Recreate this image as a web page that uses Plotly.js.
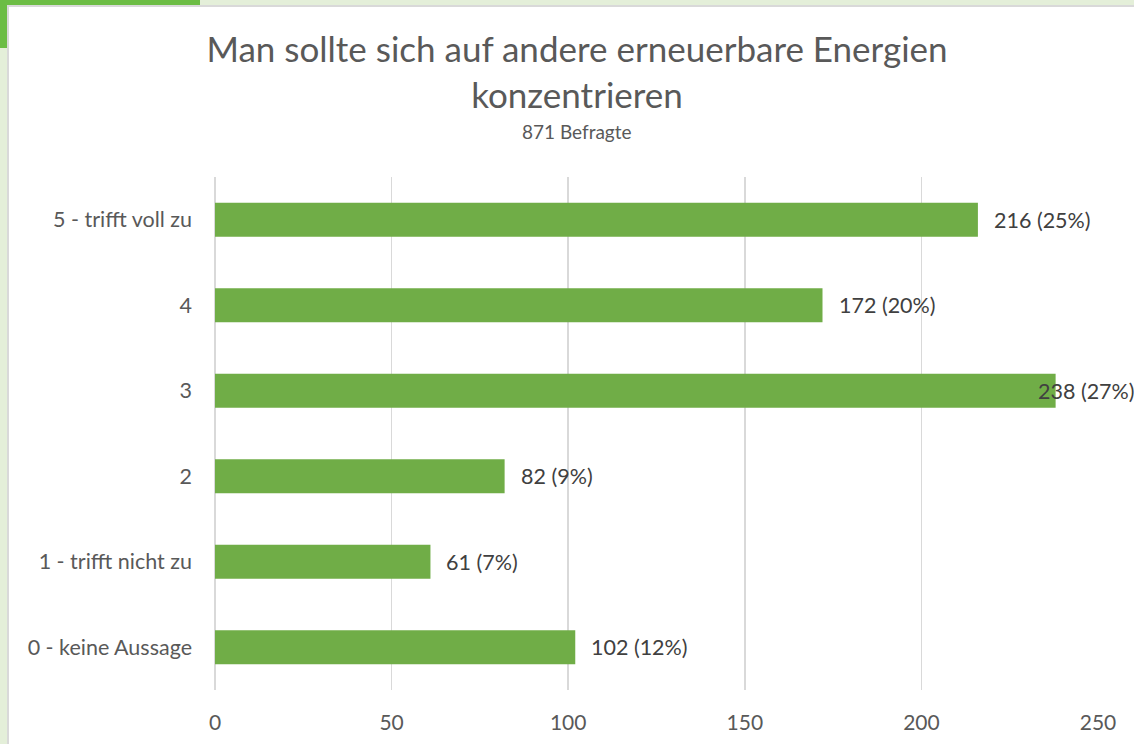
<!DOCTYPE html>
<html>
<head>
<meta charset="utf-8">
<script src="https://cdn.plot.ly/plotly-3.0.1.min.js"></script>
<style>
  html, body { margin: 0; padding: 0; width: 1134px; height: 744px; overflow: hidden; background: #e4efd9; }
  #deco { position: absolute; left: 0; top: 0; width: 200px; height: 48px; background: #6cbd45; border-bottom-right-radius: 160px 40px; }
  #panel { position: absolute; left: 7px; top: 5px; width: 1140px; height: 760px; background: #ffffff; border: 2px solid #d9d9d9; }
  #chart { position: absolute; left: 0; top: 0; width: 1134px; height: 744px; }
</style>
</head>
<body>
<div id="deco"></div>
<div id="panel"></div>
<div id="chart"></div>
<script>
const categories = ["0 - keine Aussage", "1 - trifft nicht zu", "2", "3", "4", "5 - trifft voll zu"];
const counts = [102, 61, 82, 238, 172, 216];
const percents = ["12%", "7%", "9%", "27%", "20%", "25%"];
const xTicks = [0, 50, 100, 150, 200, 250];
const subtitleText = "871 Befragte";

const FONT = "Lato, 'Open Sans', sans-serif";
const labels = counts.map((c, i) => c + " (" + percents[i] + ")");

const W = 1134, H = 744;
const margin = { l: 215, r: 36, t: 177, b: 54 };
const xMax = 250;
const plotW = W - margin.l - margin.r;
const pxPerUnit = plotW / xMax;
const labelW = 97;
const titleCenterX = 577;

const trace = {
  type: "bar",
  orientation: "h",
  y: categories,
  x: counts,
  marker: { color: "#70ad47" },
  width: 0.4,
  hoverinfo: "skip"
};

const annotations = counts.map((c, i) => {
  const endPx = margin.l + c * pxPerUnit;
  let shift = 14;
  if (endPx + shift + labelW > W) shift = -20;
  return {
    x: c, y: categories[i], xref: "x", yref: "y",
    text: labels[i], showarrow: false,
    xanchor: "left", xshift: shift,
    font: { family: FONT, size: 21.5, color: "#404040" }
  };
});

annotations.push({
  x: (titleCenterX - margin.l) / plotW, y: 1 + (margin.t - 131) / (H - margin.t - margin.b),
  xref: "paper", yref: "paper", xanchor: "center", yanchor: "middle",
  text: subtitleText, showarrow: false,
  font: { family: FONT, size: 19, color: "#595959" }
});

const layout = {
  width: W, height: H,
  paper_bgcolor: "rgba(0,0,0,0)",
  plot_bgcolor: "rgba(0,0,0,0)",
  margin: margin,
  title: {
    text: "Man sollte sich auf andere erneuerbare Energien<br>konzentrieren",
    font: { family: FONT, size: 35, color: "#595959" },
    x: titleCenterX / W, xanchor: "center",
    y: 1 - 62 / H, yanchor: "top", yref: "container"
  },
  xaxis: {
    range: [0, xMax],
    tickvals: xTicks,
    showgrid: true, gridcolor: "#d9d9d9", gridwidth: 1.5,
    zeroline: true, zerolinecolor: "#d9d9d9", zerolinewidth: 1.5,
    showline: false,
    ticks: "",
    ticklabelstandoff: 18,
    tickfont: { family: FONT, size: 21, color: "#595959" },
    fixedrange: true
  },
  yaxis: {
    type: "category",
    categoryorder: "array", categoryarray: categories,
    range: [-0.5, 5.5],
    showgrid: false, showline: false, zeroline: false,
    ticks: "",
    ticklabelstandoff: 22,
    tickfont: { family: FONT, size: 21.5, color: "#595959" },
    fixedrange: true
  },
  bargap: 0.6,
  showlegend: false,
  annotations: annotations
};

Plotly.newPlot("chart", [trace], layout, { displayModeBar: false, staticPlot: true });
</script>
</body>
</html>
